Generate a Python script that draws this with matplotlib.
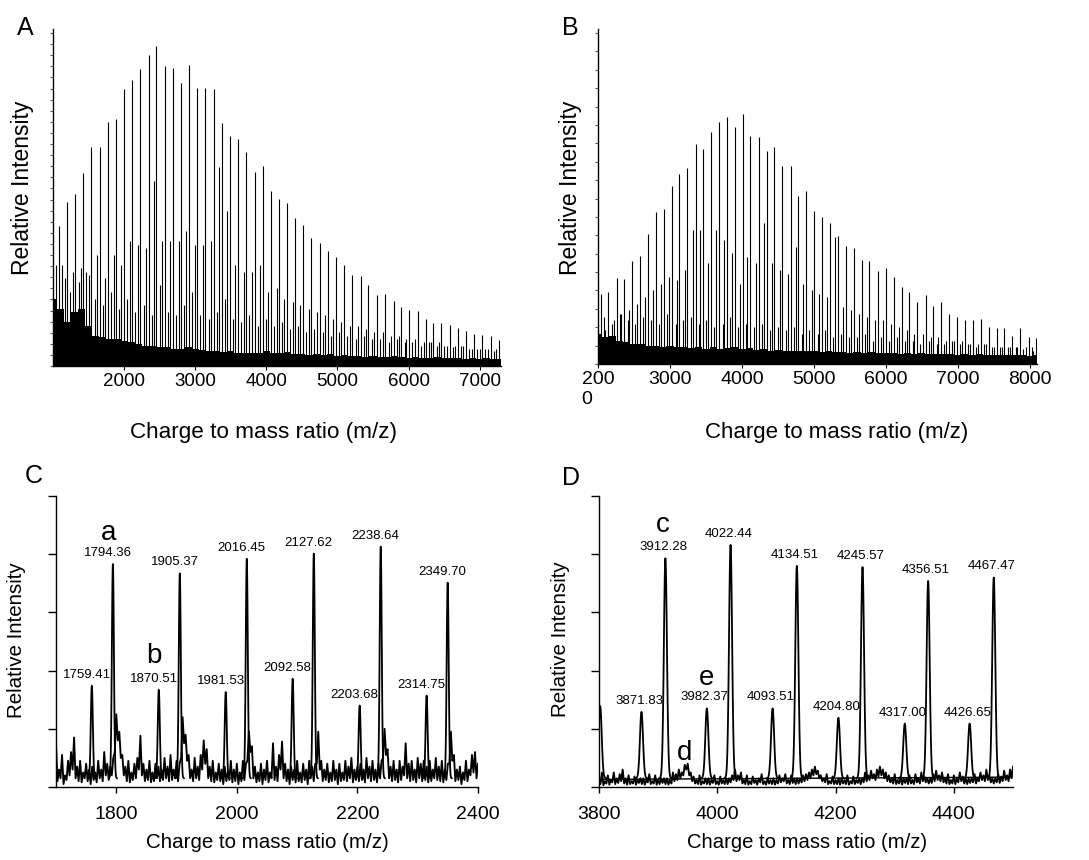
import matplotlib.pyplot as plt
import numpy as np

plt.rcParams['font.family'] = ['Liberation Sans', 'DejaVu Sans']

# ---------------- data ----------------
# panel A - full spectrum (relative intensity, 1 = top of axis)
a_mz = [1080, 1197, 1314, 1422, 1539, 1656, 1769, 1886, 1998, 2115,
        2228, 2345, 2453, 2570, 2687, 2804, 2912, 3029, 3142, 3259,
        3376, 3484, 3596, 3718, 3835, 3948, 4060, 4178, 4290, 4403,
        4515, 4632, 4749, 4862, 4974, 5091, 5209, 5330, 5434, 5555,
        5673, 5790, 5898, 6005, 6127, 6249, 6348, 6460, 6582, 6694,
        6802, 6924, 7036, 7153, 7271]
a_int = [0.415, 0.488, 0.510, 0.572, 0.651, 0.651, 0.723, 0.733, 0.822, 0.849,
         0.882, 0.922, 0.951, 0.891, 0.885, 0.839, 0.894, 0.825, 0.824, 0.822,
         0.721, 0.683, 0.674, 0.636, 0.577, 0.592, 0.519, 0.497, 0.484, 0.438,
         0.418, 0.379, 0.366, 0.342, 0.324, 0.301, 0.269, 0.268, 0.240, 0.211,
         0.215, 0.192, 0.175, 0.166, 0.164, 0.139, 0.128, 0.129, 0.123, 0.112,
         0.103, 0.096, 0.091, 0.088, 0.078]
a_mz_minor = [1045, 1162, 1279, 1387, 1504, 1621, 1734, 1851, 1963, 2080,
              2193, 2310, 2418, 2535, 2652, 2769, 2877, 2994, 3107, 3224,
              3341, 3449, 3561, 3683, 3800, 3913, 4025, 4143, 4255, 4368,
              4480, 4597, 4714, 4827, 4939, 5056, 5174, 5295, 5399, 5520,
              5638, 5755, 5863, 5970, 6092, 6214, 6313, 6425, 6547, 6659,
              6767, 6889, 7001, 7118, 7236]
a_int_minor = [0.30, 0.26, 0.28, 0.29, 0.27, 0.33, 0.26, 0.33, 0.30, 0.37,
               0.36, 0.35, 0.55, 0.37, 0.37, 0.37, 0.40, 0.36, 0.36, 0.37,
               0.59, 0.46, 0.30, 0.28, 0.28, 0.30, 0.22, 0.23, 0.20, 0.19,
               0.18, 0.17, 0.16, 0.15, 0.14, 0.13, 0.12, 0.12, 0.11, 0.10,
               0.10, 0.09, 0.09, 0.08, 0.08, 0.07, 0.07, 0.07, 0.06, 0.06,
               0.06, 0.05, 0.05, 0.05, 0.05]
a_mz_small = [1125, 1242, 1359, 1467, 1584, 1701, 1814, 1931, 2043, 2160,
              2273, 2390, 2498, 2615, 2732, 2849, 2957, 3074, 3187, 3304,
              3421, 3529, 3641, 3763, 3880, 3993, 4105, 4223, 4335, 4448,
              4560, 4677, 4794, 4907, 5019, 5136, 5254, 5375, 5479, 5600,
              5718, 5835, 5943, 6050, 6172, 6294, 6393, 6505, 6627, 6739,
              6847, 6969, 7081, 7198]
a_int_small = [0.30, 0.22, 0.25, 0.28, 0.20, 0.18, 0.22, 0.17, 0.20, 0.16,
               0.18, 0.15, 0.24, 0.16, 0.15, 0.18, 0.22, 0.15, 0.14, 0.16,
               0.20, 0.14, 0.13, 0.15, 0.12, 0.14, 0.12, 0.13, 0.11, 0.12,
               0.10, 0.11, 0.10, 0.09, 0.10, 0.09, 0.08, 0.09, 0.08, 0.08,
               0.07, 0.08, 0.07, 0.07, 0.06, 0.07, 0.06, 0.06, 0.055, 0.06,
               0.05, 0.05, 0.05, 0.045]
a_noise_mz = list(range(1000, 7400, 100))
a_noise = [0.20, 0.17, 0.13, 0.16, 0.17, 0.12, 0.09, 0.085, 0.08, 0.08,
           0.075, 0.07, 0.065, 0.06, 0.06, 0.055, 0.055, 0.05, 0.05, 0.055,
           0.05, 0.048, 0.045, 0.045, 0.042, 0.045, 0.04, 0.04, 0.038, 0.04,
           0.045, 0.04, 0.038, 0.042, 0.036, 0.035, 0.033, 0.035, 0.032, 0.035,
           0.03, 0.032, 0.03, 0.03, 0.028, 0.03, 0.028, 0.027, 0.03, 0.026,
           0.025, 0.027, 0.025, 0.024, 0.026, 0.024, 0.023, 0.025, 0.022, 0.024,
           0.022, 0.023, 0.022, 0.022]

# panel B - full spectrum, second sample
b_mz = [2037, 2144, 2259, 2366, 2473, 2584, 2690, 2802, 2917, 3033,
        3131, 3242, 3358, 3460, 3571, 3686, 3793, 3904, 4016, 4117,
        4233, 4349, 4451, 4562, 4678, 4785, 4891, 5007, 5114, 5225,
        5336, 5447, 5558, 5665, 5772, 5892, 5999, 6110, 6221, 6328,
        6434, 6555, 6661, 6763, 6879, 6986, 7101, 7208, 7319, 7430,
        7542, 7648, 7759, 7866, 7982, 8088]
b_int = [0.208, 0.214, 0.258, 0.253, 0.306, 0.323, 0.388, 0.454, 0.462, 0.532,
         0.568, 0.586, 0.657, 0.642, 0.694, 0.723, 0.736, 0.706, 0.746, 0.682,
         0.679, 0.636, 0.649, 0.592, 0.592, 0.500, 0.515, 0.458, 0.440, 0.422,
         0.382, 0.351, 0.346, 0.309, 0.308, 0.278, 0.288, 0.259, 0.229, 0.216,
         0.186, 0.206, 0.174, 0.184, 0.149, 0.141, 0.131, 0.131, 0.133, 0.109,
         0.107, 0.107, 0.084, 0.107, 0.082, 0.077]
b_mz_minor = [1997, 2104, 2219, 2326, 2433, 2544, 2650, 2762, 2877, 2993,
              3091, 3202, 3318, 3420, 3531, 3646, 3753, 3864, 3976, 4077,
              4193, 4309, 4411, 4522, 4638, 4745, 4851, 4967, 5074, 5185,
              5296, 5407, 5518, 5625, 5732, 5852, 5959, 6070, 6181, 6288,
              6394, 6515, 6621, 6723, 6839, 6946, 7061, 7168, 7279, 7390,
              7502, 7608, 7719, 7826, 7942, 8048]
b_int_minor = [0.12, 0.10, 0.13, 0.15, 0.16, 0.18, 0.20, 0.22, 0.24, 0.26,
               0.25, 0.28, 0.40, 0.40, 0.30, 0.40, 0.37, 0.33, 0.24, 0.32,
               0.30, 0.42, 0.30, 0.28, 0.27, 0.35, 0.24, 0.22, 0.21, 0.20,
               0.38, 0.17, 0.16, 0.15, 0.14, 0.13, 0.13, 0.12, 0.11, 0.10,
               0.09, 0.09, 0.08, 0.08, 0.07, 0.07, 0.07, 0.06, 0.06, 0.06,
               0.05, 0.05, 0.05, 0.05, 0.05, 0.04]
b_mz_small = [2082, 2189, 2304, 2411, 2518, 2629, 2735, 2847, 2962, 3078,
              3176, 3287, 3403, 3505, 3616, 3731, 3838, 3949, 4061, 4162,
              4278, 4394, 4496, 4607, 4723, 4830, 4936, 5052, 5159, 5270,
              5381, 5492, 5603, 5710, 5817, 5937, 6044, 6155, 6266, 6373,
              6479, 6600, 6706, 6808, 6924, 7031, 7146, 7253, 7364, 7475,
              7587, 7693, 7804, 7911, 8027]
b_int_small = [0.14, 0.12, 0.15, 0.13, 0.12, 0.14, 0.13, 0.12, 0.15, 0.12,
               0.13, 0.14, 0.12, 0.13, 0.11, 0.12, 0.14, 0.11, 0.12, 0.11,
               0.12, 0.10, 0.11, 0.10, 0.11, 0.09, 0.10, 0.09, 0.10, 0.08,
               0.09, 0.08, 0.08, 0.09, 0.07, 0.08, 0.07, 0.08, 0.07, 0.07,
               0.06, 0.07, 0.06, 0.06, 0.07, 0.06, 0.06, 0.05, 0.06, 0.05,
               0.05, 0.05, 0.05, 0.045, 0.05]
b_noise_mz = list(range(2000, 8200, 100))
b_noise = [0.09, 0.08, 0.085, 0.07, 0.065, 0.06, 0.06, 0.055, 0.055, 0.05,
           0.055, 0.05, 0.05, 0.048, 0.05, 0.045, 0.05, 0.045, 0.048, 0.05,
           0.045, 0.048, 0.042, 0.045, 0.04, 0.042, 0.04, 0.04, 0.038, 0.04,
           0.038, 0.036, 0.038, 0.035, 0.036, 0.034, 0.035, 0.033, 0.036, 0.033,
           0.032, 0.034, 0.031, 0.033, 0.03, 0.032, 0.03, 0.031, 0.029, 0.03,
           0.028, 0.03, 0.028, 0.029, 0.027, 0.028, 0.026, 0.028, 0.026, 0.027,
           0.025, 0.026]

# panel C - zoom 1700-2400 (axis units 0-5)
c_mz = [1759.41, 1794.36, 1870.51, 1905.37, 1981.53, 2016.45,
        2092.58, 2127.62, 2203.68, 2238.64, 2314.75, 2349.70]
c_int = [1.74, 3.83, 1.67, 3.67, 1.63, 3.92, 1.86, 4.01, 1.40, 4.13, 1.57, 3.51]
# noise tops every 5 m/z from 1700, valleys in between
c_noise_mz = list(range(1700, 2405, 5))
c_noise = [0.75, 0.30, 0.55, 0.20, 0.45, 0.60, 0.85, 0.35, 0.45, 0.25,
           0.40, 0.30, 0.35, 0.25, 0.45, 0.30, 0.60, 0.40, 0.35, 0.50,
           1.25, 0.95, 0.55, 0.35, 0.45, 0.25, 0.40, 0.50, 0.88, 0.40,
           0.30, 0.45, 0.25, 0.40, 0.35, 0.30, 0.50, 0.35, 0.55, 0.30,
           0.45, 0.40, 1.20, 0.90, 0.55, 0.30, 0.50, 0.35, 0.55, 0.80,
           0.65, 0.35, 0.45, 0.25, 0.40, 0.30, 0.35, 0.25, 0.45, 0.30,
           0.40, 0.25, 0.45, 0.40, 0.95, 0.70, 0.35, 0.25, 0.40, 0.30,
           0.45, 0.25, 0.75, 0.35, 0.55, 0.78, 0.40, 0.30, 0.35, 0.30,
           0.45, 0.25, 0.40, 0.30, 0.45, 0.35, 0.40, 0.95, 0.45, 0.30,
           0.40, 0.25, 0.45, 0.30, 0.40, 0.25, 0.45, 0.35, 0.50, 0.30,
           0.35, 0.40, 0.30, 0.50, 0.35, 0.45, 0.30, 0.40, 0.45, 1.00,
           0.65, 0.35, 0.45, 0.30, 0.45, 0.35, 0.75, 0.40, 0.45, 0.30,
           0.50, 0.40, 0.45, 0.35, 0.45, 0.30, 0.50, 0.35, 0.45, 0.30,
           0.40, 0.95, 0.55, 0.30, 0.35, 0.25, 0.45, 0.30, 0.55, 0.60,
           0.40]
c_valley_mz = list(np.arange(1702.5, 2400, 5))
c_valley = [0.10, 0.15, 0.05, 0.12, 0.20, 0.30, 0.15, 0.10, 0.08, 0.15,
            0.10, 0.05, 0.12, 0.08, 0.15, 0.10, 0.20, 0.12, 0.20, 0.60,
            0.80, 0.50, 0.20, 0.10, 0.08, 0.12, 0.15, 0.30, 0.20, 0.10,
            0.12, 0.08, 0.10, 0.15, 0.10, 0.12, 0.15, 0.10, 0.12, 0.15,
            0.10, 0.50, 0.75, 0.45, 0.15, 0.10, 0.15, 0.12, 0.30, 0.40,
            0.15, 0.10, 0.08, 0.12, 0.10, 0.05, 0.10, 0.12, 0.08, 0.10,
            0.05, 0.10, 0.12, 0.45, 0.60, 0.15, 0.08, 0.10, 0.05, 0.12,
            0.08, 0.15, 0.12, 0.10, 0.30, 0.15, 0.10, 0.05, 0.12, 0.08,
            0.10, 0.08, 0.12, 0.05, 0.15, 0.10, 0.40, 0.30, 0.10, 0.12,
            0.08, 0.10, 0.12, 0.05, 0.10, 0.12, 0.10, 0.15, 0.08, 0.12,
            0.10, 0.12, 0.08, 0.15, 0.10, 0.12, 0.08, 0.15, 0.50, 0.55,
            0.15, 0.10, 0.12, 0.08, 0.12, 0.20, 0.15, 0.10, 0.12, 0.08,
            0.15, 0.10, 0.12, 0.08, 0.10, 0.15, 0.12, 0.10, 0.08, 0.12,
            0.40, 0.45, 0.10, 0.12, 0.05, 0.12, 0.10, 0.20, 0.25, 0.15]

# panel D - zoom 3800-4500 (axis units 0-5)
d_mz = [3871.83, 3912.28, 3982.37, 4022.44, 4093.51, 4134.51,
        4204.80, 4245.57, 4317.00, 4356.51, 4426.65, 4467.47]
d_int = [1.29, 3.93, 1.35, 4.16, 1.35, 3.80, 1.19, 3.78, 1.09, 3.54, 1.09, 3.60]
d_edge_mz = [3802]
d_edge_int = [1.39]
d_noise_mz = list(range(3800, 4505, 5))
d_noise = [0.15, 0.25, 0.10, 0.20, 0.12, 0.25, 0.15, 0.22, 0.30, 0.15,
           0.20, 0.10, 0.18, 0.12, 0.15, 0.15, 0.12, 0.22, 0.10, 0.20,
           0.12, 0.15, 0.15, 0.15, 0.12, 0.25, 0.22, 0.30, 0.25, 0.38,
           0.40, 0.25, 0.18, 0.12, 0.20, 0.10, 0.15, 0.15, 0.12, 0.20,
           0.10, 0.18, 0.12, 0.15, 0.15, 0.20, 0.30, 0.20, 0.25, 0.12,
           0.20, 0.10, 0.18, 0.12, 0.15, 0.22, 0.10, 0.15, 0.12, 0.15,
           0.12, 0.20, 0.15, 0.22, 0.12, 0.20, 0.15, 0.15, 0.15, 0.20,
           0.22, 0.25, 0.30, 0.35, 0.28, 0.20, 0.15, 0.22, 0.10, 0.18,
           0.12, 0.15, 0.15, 0.12, 0.20, 0.10, 0.18, 0.12, 0.15, 0.15,
           0.25, 0.20, 0.28, 0.22, 0.30, 0.35, 0.30, 0.25, 0.20, 0.15,
           0.22, 0.12, 0.18, 0.15, 0.15, 0.20, 0.12, 0.22, 0.15, 0.25,
           0.18, 0.15, 0.15, 0.22, 0.28, 0.20, 0.25, 0.15, 0.22, 0.12,
           0.20, 0.15, 0.25, 0.18, 0.15, 0.15, 0.15, 0.22, 0.15, 0.25,
           0.20, 0.30, 0.20, 0.15, 0.15, 0.22, 0.18, 0.28, 0.20, 0.30,
           0.35]
d_valley_mz = list(np.arange(3802.5, 4500, 5))
d_valley = [0.05, 0.03, 0.06, 0.04, 0.08, 0.05, 0.07, 0.10, 0.06, 0.04,
            0.05, 0.06, 0.04, 0.07, 0.05, 0.04, 0.08, 0.05, 0.06, 0.04,
            0.05, 0.07, 0.05, 0.04, 0.06, 0.10, 0.12, 0.15, 0.20, 0.30,
            0.20, 0.10, 0.06, 0.05, 0.04, 0.06, 0.05, 0.04, 0.07, 0.05,
            0.04, 0.06, 0.05, 0.05, 0.08, 0.12, 0.10, 0.12, 0.06, 0.05,
            0.04, 0.05, 0.07, 0.04, 0.08, 0.05, 0.04, 0.06, 0.05, 0.04,
            0.06, 0.08, 0.10, 0.06, 0.05, 0.07, 0.05, 0.06, 0.08, 0.10,
            0.12, 0.15, 0.20, 0.22, 0.15, 0.10, 0.08, 0.05, 0.06, 0.05,
            0.05, 0.04, 0.06, 0.05, 0.04, 0.06, 0.05, 0.07, 0.05, 0.08,
            0.10, 0.12, 0.15, 0.12, 0.18, 0.20, 0.15, 0.10, 0.08, 0.06,
            0.05, 0.06, 0.04, 0.07, 0.05, 0.06, 0.05, 0.08, 0.06, 0.10,
            0.08, 0.06, 0.07, 0.10, 0.12, 0.10, 0.08, 0.06, 0.05, 0.06,
            0.05, 0.08, 0.10, 0.06, 0.05, 0.07, 0.08, 0.06, 0.10, 0.12,
            0.10, 0.12, 0.08, 0.06, 0.08, 0.07, 0.10, 0.12, 0.10, 0.15]
d_base_mz = [3800, 4500]
d_base_level = [0.13, 0.17]

# ---------------- figure ----------------
W, H = 1089, 860
fig = plt.figure(figsize=(W / 100, H / 100), dpi=100)


def px_axes(left, top, right, bottom):
    ax = fig.add_axes([left / W, 1 - bottom / H, (right - left) / W, (bottom - top) / H])
    ax.spines['top'].set_visible(False)
    ax.spines['right'].set_visible(False)
    ax.spines['left'].set_linewidth(1.0)
    ax.spines['bottom'].set_linewidth(1.0)
    return ax


def full_spectrum(ax, series, nmz, noise, xlim, ntick):
    ax.fill_between(nmz, 0, noise, step='mid', color='k', lw=0)
    for mz, inten in series:
        ax.vlines(mz, 0, inten, color='k', lw=0.8)
    ax.set_xlim(*xlim)
    ax.set_ylim(0, 1)
    ax.set_yticks(np.linspace(0, 0.988, ntick))
    ax.set_yticklabels([])
    ax.tick_params(axis='y', length=2.5, width=0.8, color='0.35')
    ax.tick_params(axis='x', length=3, width=0.8, labelsize=13.5, pad=2)


def zoom_spectrum(ax, mz, inten, tops_mz, tops, low_mz, lows, sigma, xlim, xticks):
    # baseline noise: alternate the noise tops and the valleys between them
    n = len(tops)
    tx = np.empty(2 * n - 1)
    ty = np.empty(2 * n - 1)
    tx[0::2], ty[0::2] = tops_mz, tops
    tx[1::2], ty[1::2] = low_mz, lows
    ax.plot(tx, ty, color='k', lw=1.35)
    base = 0.15
    for m, h in zip(mz, inten):
        xs = m + np.linspace(-4 * sigma, 4 * sigma, 61)
        ax.plot(xs, base + (h - base) * np.exp(-0.5 * ((xs - m) / sigma) ** 2),
                color='k', lw=1.3)
    ax.set_xlim(*xlim)
    ax.set_ylim(0, 5)
    ax.set_yticks(range(6))
    ax.set_yticklabels([])
    ax.set_xticks(xticks)
    ax.tick_params(axis='y', length=6, width=1.0)
    ax.tick_params(axis='x', length=4, width=1.0, labelsize=14, pad=10)


# A
ax_a = px_axes(53, 29, 501, 366)
full_spectrum(ax_a, [(a_mz_small, a_int_small), (a_mz_minor, a_int_minor), (a_mz, a_int)],
              a_noise_mz, a_noise, (1000, 7300), 31)
ax_a.set_xticks([2000, 3000, 4000, 5000, 6000, 7000])

# B
ax_b = px_axes(598, 29, 1037, 364)
full_spectrum(ax_b, [(b_mz_small, b_int_small), (b_mz_minor, b_int_minor), (b_mz, b_int)],
              b_noise_mz, b_noise, (2000, 8100), 19)
ax_b.set_xticks([2000, 3000, 4000, 5000, 6000, 7000, 8000])
ax_b.set_xticklabels(['200\n0', '3000', '4000', '5000', '6000', '7000', '8000'])
ax_b.get_xticklabels()[0].set_multialignment('left')
ax_b.tick_params(axis='x', labelsize=14)

# C
ax_c = px_axes(56, 496, 478, 787)
zoom_spectrum(ax_c, c_mz, c_int, c_noise_mz, c_noise, c_valley_mz, c_valley,
              1.7, (1700, 2400), [1800, 2000, 2200, 2400])
for m, h in zip(c_mz, c_int):
    ax_c.annotate(f'{m:.2f}', (m, h), xytext=(-5, 5), textcoords='offset pixels',
                  ha='center', va='bottom', fontsize=9.5)
ax_c.text(1788, 4.24, 'a', fontsize=20, ha='center', va='baseline')
ax_c.text(1862, 2.13, 'b', fontsize=20, ha='center', va='baseline')

# D
ax_d = px_axes(599, 496, 1013, 787)
zoom_spectrum(ax_d, d_mz + d_edge_mz, d_int + d_edge_int, d_noise_mz, d_noise,
              d_valley_mz, d_valley, 2.6, (3800, 4500), [3800, 4000, 4200, 4400])
ax_d.plot(d_base_mz, d_base_level, color='k', lw=1.0)
for m, h in zip(d_mz, d_int):
    ax_d.annotate(f'{m:.2f}', (m, h), xytext=(-2, 5), textcoords='offset pixels',
                  ha='center', va='bottom', fontsize=9.5)
ax_d.text(3908, 4.38, 'c', fontsize=20, ha='center', va='baseline')
ax_d.text(3945, 0.46, 'd', fontsize=20, ha='center', va='baseline')
ax_d.text(3982, 1.75, 'e', fontsize=20, ha='center', va='baseline')

# axis titles and panel letters
for x, y, s in [(22, 188, 16.5), (570, 188, 16.5), (17, 640, 14.8), (561, 639, 14.8)]:
    fig.text(x / W, 1 - y / H, 'Relative Intensity', rotation=90,
             ha='center', va='center', fontsize=s)
for x, y, s in [(263, 433, 16.2), (837, 433, 16.0), (267, 843, 14.8), (807, 843, 14.6)]:
    fig.text(x / W, 1 - y / H, 'Charge to mass ratio (m/z)',
             ha='center', va='center', fontsize=s)
for x, y, s in [(25, 35, 'A'), (570, 35, 'B'), (34, 483, 'C'), (571, 485, 'D')]:
    fig.text(x / W, 1 - y / H, s, ha='center', va='baseline', fontsize=18)

fig.savefig('out.png', dpi=100)
